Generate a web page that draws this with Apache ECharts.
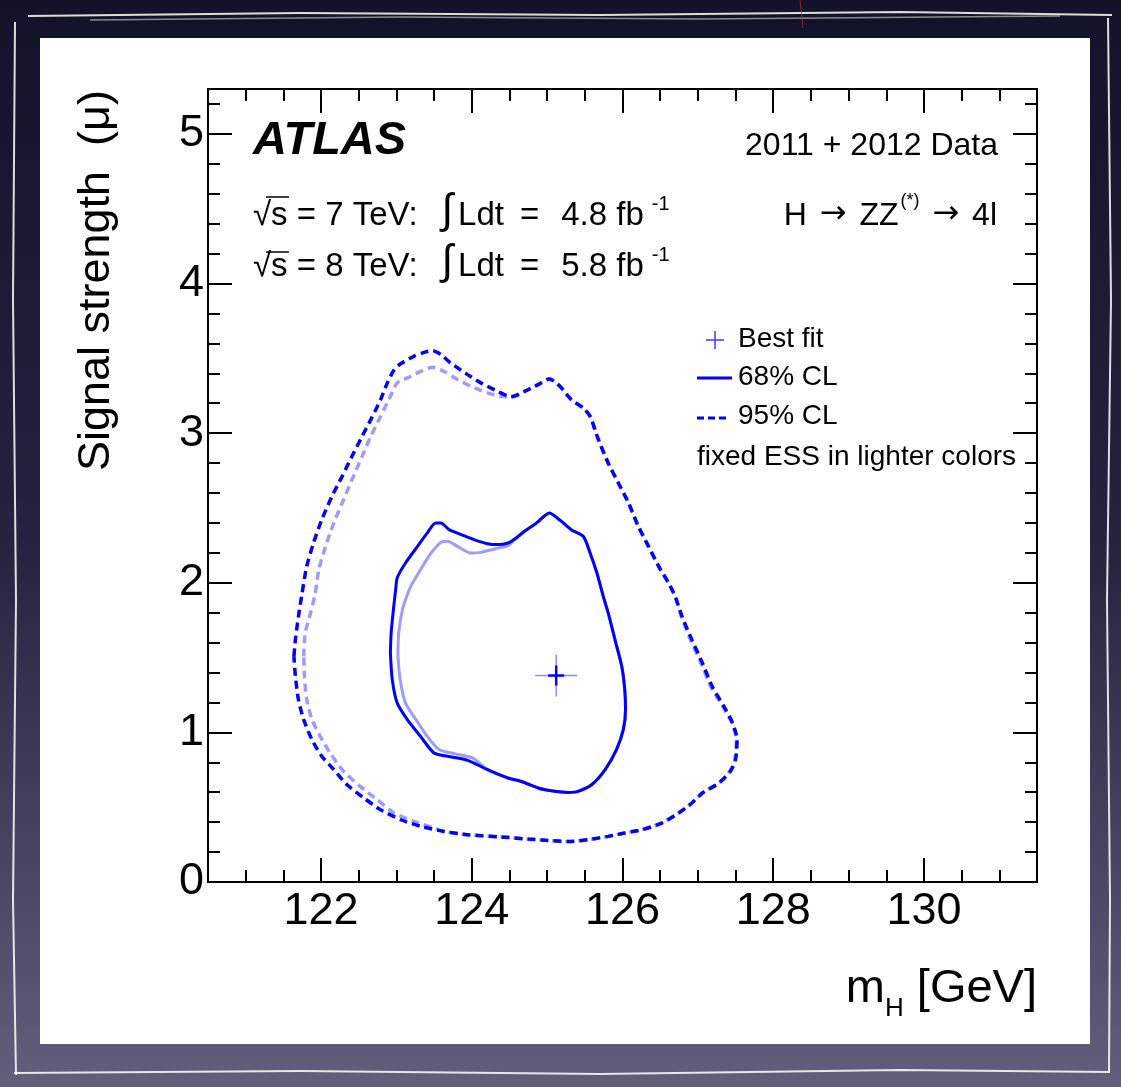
<!DOCTYPE html>
<html><head><meta charset="utf-8">
<script src="https://cdn.jsdelivr.net/npm/echarts@6/dist/echarts.min.js"></script>
<style>html,body{margin:0;padding:0;background:#1b1b33;}#c{width:1121px;height:1087px;}</style>
</head><body><div id="c"></div>
<script>
// ---- tick labels ----
const xTicks = [122, 124, 126, 128, 130];
const yTicks = [0, 1, 2, 3, 4, 5];
// ---- best fit (mH, mu) ----
const bestFit = [125.12, 1.38];
// ---- 95% CL contour (floating ESS) ----
const cl95 = [[121.64,1.508],[121.66,1.620],[121.70,1.775],[121.745,1.920],[121.81,2.110],[121.90,2.266],[122.01,2.422],[122.145,2.578],[122.28,2.711],[122.41,2.845],[122.545,2.979],[122.66,3.090],[122.79,3.224],[122.88,3.336],[122.97,3.424],[123.06,3.465],[123.23,3.513],[123.37,3.540],[123.48,3.551],[123.59,3.525],[123.72,3.469],[123.945,3.391],[124.12,3.336],[124.345,3.279],[124.52,3.244],[124.70,3.279],[124.88,3.324],[125.03,3.362],[125.17,3.313],[125.32,3.224],[125.48,3.168],[125.57,3.112],[125.68,2.957],[125.81,2.801],[125.945,2.667],[126.08,2.533],[126.21,2.377],[126.345,2.243],[126.48,2.110],[126.61,1.999],[126.70,1.907],[126.79,1.775],[126.92,1.620],[127.06,1.464],[127.19,1.307],[127.345,1.174],[127.46,1.063],[127.52,0.951],[127.50,0.818],[127.43,0.739],[127.28,0.662],[127.06,0.595],[126.92,0.528],[126.745,0.461],[126.52,0.394],[126.26,0.350],[126.03,0.328],[125.81,0.305],[125.545,0.283],[125.28,0.271],[125.01,0.278],[124.745,0.287],[124.39,0.301],[123.945,0.316],[123.63,0.338],[123.32,0.372],[123.06,0.416],[122.79,0.483],[122.57,0.561],[122.345,0.650],[122.17,0.751],[122.01,0.840],[121.88,0.951],[121.77,1.085],[121.70,1.219],[121.66,1.374]];
// ---- 95% CL contour (fixed ESS) ----
const cl95Fixed = [[121.77,1.508],[121.79,1.664],[121.86,1.798],[121.92,1.920],[121.97,2.088],[122.06,2.243],[122.17,2.400],[122.28,2.533],[122.41,2.689],[122.545,2.845],[122.66,2.979],[122.79,3.112],[122.92,3.246],[123.01,3.336],[123.145,3.369],[123.32,3.413],[123.48,3.440],[123.63,3.413],[123.81,3.358],[123.99,3.313],[124.21,3.269],[124.39,3.246],[124.545,3.242],[124.70,3.279],[124.88,3.324],[125.03,3.362],[125.17,3.313],[125.32,3.224],[125.48,3.168],[125.57,3.112],[125.68,2.957],[125.81,2.801],[125.945,2.667],[126.08,2.533],[126.21,2.377],[126.345,2.243],[126.48,2.110],[126.61,1.999],[126.70,1.907],[126.78,1.775],[126.90,1.620],[127.04,1.464],[127.17,1.307],[127.33,1.174],[127.45,1.063],[127.51,0.951],[127.49,0.818],[127.42,0.739],[127.28,0.662],[127.06,0.595],[126.92,0.528],[126.745,0.461],[126.52,0.394],[126.26,0.350],[126.03,0.328],[125.81,0.305],[125.545,0.283],[125.28,0.271],[125.01,0.278],[124.745,0.287],[124.39,0.301],[123.945,0.316],[123.63,0.338],[123.50,0.361],[123.23,0.405],[122.97,0.461],[122.745,0.550],[122.52,0.639],[122.30,0.739],[122.12,0.862],[121.99,0.973],[121.88,1.085],[121.81,1.219],[121.78,1.374]];
// ---- 68% CL contour (floating ESS) ----
const cl68 = [[122.92,1.531],[122.93,1.664],[122.96,1.820],[122.99,1.954],[123.01,2.032],[123.12,2.132],[123.28,2.243],[123.41,2.333],[123.52,2.400],[123.59,2.400],[123.70,2.355],[123.86,2.322],[124.03,2.288],[124.21,2.261],[124.345,2.255],[124.48,2.266],[124.57,2.293],[124.70,2.344],[124.86,2.400],[125.03,2.467],[125.19,2.410],[125.32,2.355],[125.48,2.310],[125.57,2.199],[125.66,2.066],[125.745,1.909],[125.81,1.798],[125.90,1.620],[125.99,1.441],[126.03,1.285],[126.04,1.152],[126.01,1.018],[125.92,0.884],[125.77,0.751],[125.59,0.650],[125.41,0.606],[125.28,0.599],[125.10,0.606],[124.88,0.628],[124.66,0.672],[124.48,0.695],[124.21,0.751],[123.945,0.813],[123.68,0.840],[123.50,0.862],[123.32,0.973],[123.145,1.085],[123.01,1.197],[122.945,1.352]];
// ---- 68% CL contour (fixed ESS) ----
const cl68Fixed = [[123.02,1.508],[123.03,1.664],[123.08,1.820],[123.13,1.900],[123.19,1.976],[123.32,2.088],[123.46,2.199],[123.59,2.270],[123.68,2.277],[123.81,2.243],[123.99,2.199],[124.12,2.203],[124.30,2.226],[124.48,2.248],[124.57,2.288],[124.70,2.344],[124.86,2.400],[125.03,2.467],[125.19,2.410],[125.32,2.355],[125.48,2.310],[125.57,2.199],[125.66,2.066],[125.745,1.909],[125.81,1.798],[125.90,1.620],[125.99,1.441],[126.03,1.285],[126.04,1.152],[126.01,1.018],[125.92,0.884],[125.77,0.751],[125.59,0.650],[125.41,0.606],[125.28,0.599],[125.10,0.606],[124.88,0.628],[124.66,0.672],[124.48,0.695],[124.21,0.751],[124.01,0.829],[123.77,0.858],[123.57,0.884],[123.41,0.973],[123.26,1.085],[123.12,1.197],[123.05,1.352]];

const FONT = '"Liberation Sans", Arial, Helvetica, sans-serif';
const ARROWFONT = '"DejaVu Sans", sans-serif';
const DARK = '#0000ff', LIGHT = '#9c9cff';
const closed = a => a.concat([a[0]]);

function xAxisDef(grid, pos, major) {
  return {
    type: 'value', gridIndex: grid, position: pos, min: 120.5, max: 131.5,
    interval: major ? undefined : 0.5,
    axisLine: { show: true, onZero: false, lineStyle: { color: '#000', width: 2 } },
    axisTick: { show: true, inside: true, length: major ? 24 : 12, lineStyle: { color: '#000', width: 2 }, customValues: major ? xTicks : undefined },
    axisLabel: { show: major && pos === 'bottom', customValues: major ? xTicks : undefined, margin: 7, fontSize: 45, fontFamily: FONT, color: '#000' },
    splitLine: { show: false }
  };
}
function yAxisDef(grid, pos, major) {
  return {
    type: 'value', gridIndex: grid, position: pos, min: 0, max: 5.3,
    interval: major ? undefined : 0.2,
    axisLine: { show: true, onZero: false, lineStyle: { color: '#000', width: 2 } },
    axisTick: { show: true, inside: true, length: major ? 24 : 12, lineStyle: { color: '#000', width: 2 }, customValues: major ? yTicks : undefined },
    axisLabel: { show: major && pos === 'left', customValues: major ? yTicks : undefined, margin: 4, fontSize: 45, fontFamily: FONT, color: '#000' },
    splitLine: { show: false }
  };
}

function contour(data, color, dashed) {
  return {
    type: 'line', xAxisIndex: 0, yAxisIndex: 0, data: closed(data),
    showSymbol: false, symbol: 'none', smooth: 0.25, silent: true,
    lineStyle: { color: color, width: dashed ? 3.5 : 3, type: dashed ? [8, 5] : 'solid' }
  };
}

const chart = echarts.init(document.getElementById('c'), null, { renderer: 'canvas' });
const gridRect = { left: 208, top: 89, width: 829, height: 793 };
const T = (x, y, text, size, extra) => Object.assign({
  type: 'text', x: x, y: y, z: 100,
  style: Object.assign({ text: text, fontSize: size, fontFamily: FONT, fill: '#000', verticalAlign: 'bottom' }, extra || {})
});
const lumiRich = {
  a: { fontSize: 33, fontFamily: FONT, verticalAlign: 'bottom' },
  i: { fontSize: 42, fontFamily: FONT, verticalAlign: 'bottom', padding: [0, 0, 0, 24] },
  l: { fontSize: 33, fontFamily: FONT, verticalAlign: 'bottom', padding: [0, 0, 0, 5] },
  e: { fontSize: 33, fontFamily: FONT, verticalAlign: 'bottom', padding: [0, 0, 0, 16] },
  n: { fontSize: 33, fontFamily: FONT, verticalAlign: 'bottom', padding: [0, 0, 0, 22] },
  s: { fontSize: 20, fontFamily: FONT, verticalAlign: 'bottom', padding: [0, 0, 18, 8] }
};

chart.setOption({
  animation: false,
  backgroundColor: 'transparent',
  grid: [Object.assign({}, gridRect), Object.assign({}, gridRect)],
  xAxis: [xAxisDef(0, 'bottom', false), xAxisDef(0, 'top', false), xAxisDef(1, 'bottom', true), xAxisDef(1, 'top', true)],
  yAxis: [yAxisDef(0, 'left', false), yAxisDef(0, 'right', false), yAxisDef(1, 'left', true), yAxisDef(1, 'right', true)],
  series: [
    contour(cl95Fixed, LIGHT, true),
    contour(cl68Fixed, LIGHT, false),
    contour(cl95, DARK, true),
    contour(cl68, DARK, false),
    {
      type: 'custom', xAxisIndex: 0, yAxisIndex: 0, data: [bestFit], z: 5, silent: true,
      renderItem: function (params, api) {
        const p = api.coord([api.value(0), api.value(1)]);
        const ln = (x1, y1, x2, y2, c, w) => ({ type: 'line', shape: { x1: x1, y1: y1, x2: x2, y2: y2 }, style: { stroke: c, lineWidth: w } });
        return { type: 'group', children: [
          ln(p[0] - 21, p[1], p[0] + 21, p[1], '#8c8cff', 1.5),
          ln(p[0], p[1] - 21, p[0], p[1] + 21, '#8c8cff', 1.5),
          ln(p[0] - 8, p[1], p[0] + 8, p[1], DARK, 2.5),
          ln(p[0], p[1] - 10, p[0], p[1] + 10, DARK, 2.5)
        ] };
      }
    }
  ],
  graphic: [
    { type: 'rect', z: -100, silent: true, shape: { x: 0, y: 0, width: 1121, height: 1087 },
      style: { fill: new echarts.graphic.LinearGradient(0, 0, 0, 1, [{ offset: 0, color: '#121229' }, { offset: 0.5, color: '#24243f' }, { offset: 1, color: '#615f7b' }]) } },
    { type: 'polyline', z: -99, shape: { points: [[28,16],[300,13],[600,15],[900,12],[1112,15]] }, style: { stroke: 'rgba(255,255,255,0.85)', lineWidth: 2, fill: null } },
    { type: 'polyline', z: -99, shape: { points: [[90,20],[400,17],[700,19],[1060,16]] }, style: { stroke: 'rgba(255,255,255,0.5)', lineWidth: 1.5, fill: null } },
    { type: 'polyline', z: -99, shape: { points: [[15,22],[13,300],[16,600],[13,900],[16,1075]] }, style: { stroke: 'rgba(255,255,255,0.85)', lineWidth: 2, fill: null } },
    { type: 'polyline', z: -99, shape: { points: [[1108,18],[1111,300],[1107,600],[1110,900],[1109,1072]] }, style: { stroke: 'rgba(255,255,255,0.85)', lineWidth: 2, fill: null } },
    { type: 'polyline', z: -99, shape: { points: [[14,1073],[300,1071],[600,1074],[900,1070],[1110,1072]] }, style: { stroke: 'rgba(255,255,255,0.85)', lineWidth: 2, fill: null } },
    { type: 'line', z: -99, shape: { x1: 800, y1: 0, x2: 803, y2: 28 }, style: { stroke: 'rgba(170,60,60,0.7)', lineWidth: 1 } },
    { type: 'rect', z: -98, silent: true, shape: { x: 40, y: 38, width: 1050, height: 1006 }, style: { fill: '#ffffff' } },

    T(253, 165, 'ATLAS', 47, { fontWeight: 'bold', fontStyle: 'italic' }),
    T(998, 162, '2011 + 2012 Data', 32, { align: 'right' }),
    T(253, 232, '{a|√s = 7 TeV:}{i|∫}{l|Ldt}{e|=}{n|4.8 fb}{s|-1}', 33, { rich: lumiRich }),
    T(253, 283, '{a|√s = 8 TeV:}{i|∫}{l|Ldt}{e|=}{n|5.8 fb}{s|-1}', 33, { rich: lumiRich }),
    { type: 'line', z: 100, shape: { x1: 266, y1: 197, x2: 289, y2: 197 }, style: { stroke: '#000', lineWidth: 1.5 } },
    { type: 'line', z: 100, shape: { x1: 266, y1: 252, x2: 289, y2: 252 }, style: { stroke: '#000', lineWidth: 1.5 } },
    T(997, 232, '{a|H }{r|→}{a| ZZ}{s|(*)}{a| }{r|→}{a| 4l}', 32, { align: 'right', rich: {
      a: { fontSize: 32, fontFamily: FONT, verticalAlign: 'bottom' },
      r: { fontSize: 32, fontFamily: ARROWFONT, verticalAlign: 'bottom', padding: [0, 4, 1, 4] },
      s: { fontSize: 18, fontFamily: FONT, verticalAlign: 'bottom', padding: [0, 0, 22, 2] } } }),

    { type: 'line', z: 100, shape: { x1: 706, y1: 340, x2: 724, y2: 340 }, style: { stroke: '#3b3bff', lineWidth: 1.5 } },
    { type: 'line', z: 100, shape: { x1: 715, y1: 331, x2: 715, y2: 349 }, style: { stroke: '#3b3bff', lineWidth: 1.5 } },
    T(738, 353.5, 'Best fit', 28),
    { type: 'line', z: 100, shape: { x1: 697, y1: 378, x2: 732, y2: 378 }, style: { stroke: DARK, lineWidth: 3 } },
    T(738, 391.5, '68% CL', 28),
    { type: 'line', z: 100, shape: { x1: 697, y1: 418, x2: 727, y2: 418 }, style: { stroke: DARK, lineWidth: 3, lineDash: [7, 4] } },
    T(738, 430.2, '95% CL', 28),
    T(697, 471, 'fixed ESS in lighter colors', 28),

    { type: 'text', z: 100, x: 119, y: 90, rotation: Math.PI / 2,
      style: { text: 'Signal strength  (μ)', fontSize: 45, fontFamily: FONT, fill: '#000', align: 'right', verticalAlign: 'bottom' } },
    T(1037, 1022, '{a|m}{b|H}{a| [GeV]}', 47, { align: 'right', rich: {
      a: { fontSize: 47, fontFamily: FONT, verticalAlign: 'bottom', padding: [0, 0, 9, 0] },
      b: { fontSize: 26, fontFamily: FONT, verticalAlign: 'bottom' } } })
  ]
});
</script>
</body></html>
